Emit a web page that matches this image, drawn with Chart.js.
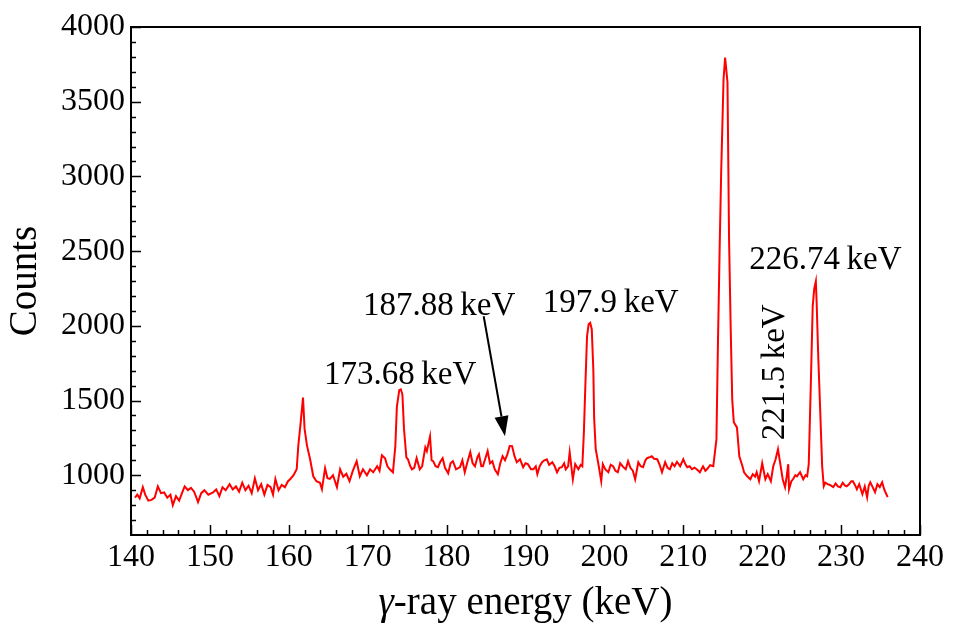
<!DOCTYPE html>
<html>
<head>
<meta charset="utf-8">
<script src="https://cdn.jsdelivr.net/npm/chart.js@4.4.1/dist/chart.umd.min.js"></script>
<style>
html,body{margin:0;padding:0;background:#fff;}
#wrap{width:955px;height:634px;}
</style>
</head>
<body>
<div id="wrap"><canvas id="c" width="955" height="634"></canvas></div>
<script>
// ---- data ----
const energies = [
140.5,140.8,141.1,141.5,141.8,142.2,142.6,143.0,143.4,143.8,144.2,144.6,145.0,145.3,145.7,146.1,146.5,146.8,147.2,147.6,
148.0,148.5,148.9,149.3,149.8,150.4,150.8,151.2,151.6,152.0,152.5,152.9,153.3,153.7,154.1,154.5,154.9,155.3,155.7,156.1,
156.5,156.9,157.3,157.7,158.0,158.3,158.7,159.1,159.5,159.9,160.2,160.6,161.0,161.2,161.5,161.8,162.0,162.3,162.7,163.1,
163.5,163.95,164.2,164.6,164.9,165.2,165.6,166.1,166.5,166.9,167.3,167.7,168.1,168.6,169.0,169.4,169.9,170.3,170.7,171.2,
171.5,171.8,172.2,172.5,172.8,173.2,173.5,173.7,174.0,174.2,174.4,174.6,174.9,175.1,175.4,175.6,175.9,176.2,176.6,176.9,
177.3,177.5,177.9,178.1,178.3,178.6,178.9,179.2,179.5,179.8,180.2,180.5,180.8,181.2,181.7,182.0,182.3,182.6,183.0,183.3,
183.6,183.9,184.1,184.4,184.6,184.9,185.2,185.5,185.8,186.1,186.5,186.8,187.1,187.4,187.7,188.0,188.3,188.6,188.9,189.3,
189.7,190.0,190.3,190.7,191.0,191.3,191.5,191.8,192.1,192.4,192.7,193.0,193.4,193.7,194.0,194.3,194.6,194.9,195.1,195.4,
195.6,196.0,196.3,196.7,197.0,197.2,197.4,197.6,197.8,198.0,198.2,198.4,198.6,198.7,198.9,199.2,199.6,199.8,200.1,200.5,
200.8,201.1,201.4,201.7,202.0,202.4,202.7,203.0,203.3,203.6,203.9,204.3,204.6,204.9,205.2,205.4,205.7,206.0,206.3,206.7,
207.0,207.3,207.7,208.0,208.3,208.6,208.9,209.2,209.6,210.0,210.3,210.5,210.8,211.1,211.4,211.7,212.1,212.5,212.8,213.0,
213.4,213.8,214.2,214.4,214.6,214.8,215.1,215.3,215.6,215.8,216.0,216.2,216.4,216.8,217.1,217.5,217.7,218.1,218.5,218.8,
219.1,219.3,219.6,220.0,220.4,220.7,221.1,221.4,221.7,222.0,222.3,222.6,222.9,223.1,223.3,223.4,223.7,223.9,224.2,224.4,
224.8,225.2,225.5,225.7,225.9,226.2,226.4,226.6,226.8,226.9,227.1,227.3,227.6,227.8,228.0,228.3,228.6,229.0,229.3,229.6,
229.9,230.2,230.5,230.7,231.0,231.3,231.5,231.8,232.0,232.3,232.7,233.0,233.3,233.5,233.7,234.0,234.3,234.6,234.9,235.2,
235.5,235.9
];
const counts = [
850,870,845,920,870,830,835,850,925,880,885,850,870,800,860,830,885,925,900,915,
890,820,880,900,870,885,905,860,920,900,940,905,925,890,950,900,930,880,980,900,
940,870,935,920,870,975,900,935,920,960,975,1000,1040,1195,1350,1520,1310,1200,1107,993,
960,950,906,1047,980,975,1000,920,1040,990,1010,960,1027,1094,993,1040,1000,1040,1020,1060,
1030,1134,1114,1060,1040,1020,1194,1460,1570,1575,1540,1310,1120,1107,1060,1040,1050,1114,1040,1060,
1187,1161,1260,1100,1094,1060,1054,1090,1114,1050,1013,1080,1094,1040,1054,1100,1020,1080,1154,1080,
1060,1120,1140,1060,1060,1110,1161,1080,1094,1040,1007,1080,1127,1100,1140,1196,1195,1129,1087,1107,
1054,1080,1074,1040,1040,1060,1007,1060,1087,1100,1107,1070,1087,1060,1020,1050,1054,1080,1040,1060,
1154,973,1074,1040,1070,1060,1288,1622,1930,2010,2020,1977,1700,1383,1174,1087,960,1074,1040,1020,
1070,1060,1030,1020,1080,1054,1040,1094,1050,1030,973,1087,1060,1054,1100,1114,1120,1127,1110,1107,
1070,1020,1087,1050,1040,1080,1060,1090,1060,1107,1070,1054,1060,1040,1050,1040,1020,1060,1030,1040,
1067,1060,1240,1910,2500,3027,3650,3796,3630,2580,2000,1508,1355,1320,1127,1060,1020,993,973,1007,
990,1020,960,1080,973,1007,960,1060,1107,1174,1074,973,920,990,1074,906,960,973,1000,993,
1020,973,1000,993,1074,1689,2130,2250,2298,2157,1800,1508,1060,926,950,940,935,920,945,925,
920,950,930,926,940,960,960,930,906,940,873,925,853,930,953,920,886,940,920,953,
900,853
];
const xTickValues = [140,150,160,170,180,190,200,210,220,230,240];
const yTickValues = [1000,1500,2000,2500,3000,3500,4000];
const peakLabels = ['173.68 keV','187.88 keV','197.9 keV','226.74 keV','221.5 keV'];

// ---- annotation placement (data coordinates) ----
const labelPlacement = [
  {x:174.1, y:1609, rot:false},
  {x:179.05, y:2070, rot:false},
  {x:200.8, y:2090, rot:false},
  {x:228.0, y:2378, rot:false},
  {x:222.75, y:1689, rot:true}
];
const arrowFrom = {x:184.7, y:2064};
const arrowTo = {x:187.4, y:1261};

const FONT = '"Liberation Serif", "Times New Roman", serif';
const THIN = '\u2009';

const framePlugin = {
  id:'frame',
  afterDraw(chart){
    const {ctx, chartArea:{left,right,top,bottom}, scales:{x,y}} = chart;
    ctx.save();
    ctx.strokeStyle='#000';
    // ticks (inward)
    ctx.lineWidth=1.5;
    ctx.beginPath();
    for(let v=140; v<=240; v+=2){
      const px = Math.round(x.getPixelForValue(v))+0.5;
      const len = (v%10===0)?10:5;
      ctx.moveTo(px,bottom); ctx.lineTo(px,bottom-len);
    }
    for(let v=700; v<=4000; v+=100){
      const py = Math.round(y.getPixelForValue(v))+0.5;
      const len = (v%500===0)?10:5;
      ctx.moveTo(left,py); ctx.lineTo(left+len,py);
    }
    ctx.stroke();
    // frame
    ctx.lineWidth=2;
    ctx.strokeRect(left,top,right-left,bottom-top);
    // peak labels
    ctx.fillStyle='#000';
    ctx.font='33px '+FONT;
    ctx.textBaseline='alphabetic';
    peakLabels.forEach((t,i)=>{
      const p = labelPlacement[i];
      const txt = t.replace(' ',THIN);
      const px = x.getPixelForValue(p.x), py = y.getPixelForValue(p.y);
      ctx.save();
      ctx.translate(px,py);
      if(p.rot) ctx.rotate(-Math.PI/2);
      ctx.textAlign='center';
      ctx.fillText(txt,0,0);
      ctx.restore();
    });
    // arrow
    const x1=x.getPixelForValue(arrowFrom.x), y1=y.getPixelForValue(arrowFrom.y);
    const x2=x.getPixelForValue(arrowTo.x), y2=y.getPixelForValue(arrowTo.y);
    const ang=Math.atan2(y2-y1,x2-x1);
    const hl=20, hw=7;
    const bx=x2-hl*Math.cos(ang), by=y2-hl*Math.sin(ang);
    ctx.lineWidth=2;
    ctx.beginPath(); ctx.moveTo(x1,y1); ctx.lineTo(bx,by); ctx.stroke();
    ctx.beginPath();
    ctx.moveTo(x2,y2);
    ctx.lineTo(bx+hw*Math.sin(ang), by-hw*Math.cos(ang));
    ctx.lineTo(bx-hw*Math.sin(ang), by+hw*Math.cos(ang));
    ctx.closePath(); ctx.fill();
    // x-axis title: italic gamma + upright rest
    const cx=(left+right)/2, baseY=614;
    const p1='γ', p2='-ray energy (keV)';
    ctx.font='italic 39px '+FONT;
    const w1=ctx.measureText(p1).width;
    ctx.font='39px '+FONT;
    const w2=ctx.measureText(p2).width;
    let sx=cx-(w1+w2)/2;
    ctx.textAlign='left';
    ctx.font='italic 39px '+FONT;
    ctx.fillText(p1,sx,baseY);
    ctx.font='39px '+FONT;
    ctx.fillText(p2,sx+w1,baseY);
    ctx.restore();
  }
};

new Chart(document.getElementById('c'),{
  type:'line',
  data:{datasets:[{
    data: energies.map((e,i)=>({x:e,y:counts[i]})),
    borderColor:'#ff0000',
    borderWidth:2,
    pointRadius:0,
    tension:0,
    fill:false
  }]},
  options:{
    responsive:false,
    animation:false,
    layout:{padding:{left:0,top:27,right:35,bottom:0}},
    plugins:{legend:{display:false},tooltip:{enabled:false}},
    scales:{
      x:{
        type:'linear', min:140, max:240,
        grid:{display:false, drawTicks:false},
        border:{display:false},
        afterBuildTicks(s){ s.ticks = xTickValues.map(v=>({value:v})); },
        afterFit(s){ s.height = 99; },
        ticks:{color:'#000', padding:3, maxRotation:0, autoSkip:false, font:{family:FONT,size:32},
               callback:(v)=>String(v)},
        title:{display:false}
      },
      y:{
        type:'linear', min:600, max:4000,
        grid:{display:false, drawTicks:false},
        border:{display:false},
        afterBuildTicks(s){ s.ticks = yTickValues.map(v=>({value:v})); },
        afterFit(s){ s.width = 131; },
        ticks:{color:'#000', padding:6, autoSkip:false, font:{family:FONT,size:32},
               callback:(v)=>String(v)},
        title:{display:true, text:'Counts', color:'#000', font:{family:FONT,size:39,lineHeight:1.2}, padding:{top:2,bottom:0}}
      }
    }
  },
  plugins:[framePlugin]
});
</script>
</body>
</html>
